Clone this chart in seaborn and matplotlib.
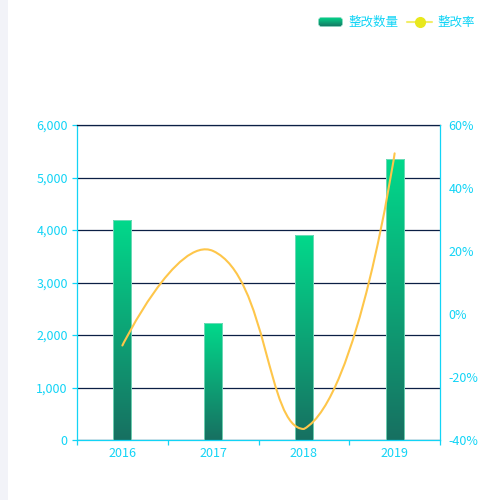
import numpy as np
import pandas as pd
import matplotlib
matplotlib.use("Agg")
import matplotlib.pyplot as plt
import seaborn as sns
from matplotlib.path import Path
from matplotlib.patches import PathPatch, FancyBboxPatch, Rectangle
from matplotlib.lines import Line2D
from matplotlib.ticker import FuncFormatter, FixedLocator

# ---- data ----
years = ["2016", "2017", "2018", "2019"]
counts = [4200, 2220, 3900, 5350]          # 整改数量
rates = [-10, 20, -36.5, 51]               # 整改率 (%)
left_ticks = [0, 1000, 2000, 3000, 4000, 5000, 6000]
right_ticks = [-40, -20, 0, 20, 40, 60]
series_names = ["整改数量", "整改率"]

sns.set_theme(style="white")
plt.rcParams['font.family'] = ['Noto Sans CJK SC', 'DejaVu Sans']

CYAN = "#12d4f6"
NAVY = "#0b1f45"
TOP_GREEN = "#02d98b"
BOT_GREEN = "#177061"
LINE_C = "#fec64a"
FS = 9.0

fig = plt.figure(figsize=(5, 5), dpi=100)
fig.patch.set_facecolor("white")
# left grey strip of the page
fig.add_artist(Rectangle((0, 0), 8 / 500, 1, transform=fig.transFigure,
                         facecolor="#f2f3f8", edgecolor="none", zorder=0))

ax = fig.add_axes([77 / 500, 60 / 500, 363 / 500, 315 / 500])
ax.set_facecolor("none")

df = pd.DataFrame({"year": years, "count": counts})
sns.barplot(data=df, x="year", y="count", ax=ax, width=0.2,
            color=TOP_GREEN, saturation=1, zorder=2)

# vertical gradient inside each bar
grad = np.linspace(0, 1, 256).reshape(-1, 1)
cmap = matplotlib.colors.LinearSegmentedColormap.from_list("g", [BOT_GREEN, TOP_GREEN])
for p in ax.patches:
    x0, y0 = p.get_x(), p.get_y()
    w, h = p.get_width(), p.get_height()
    im = ax.imshow(grad, extent=[x0, x0 + w, y0, y0 + h], origin="lower",
                   cmap=cmap, aspect="auto", zorder=2)
    im.set_clip_path(p)
    p.set_facecolor("none")
    p.set_edgecolor("#7fdcbf")
    p.set_linewidth(0.6)
    p.set_zorder(3)

ax.set_xlim(-0.5, 3.5)
ax.set_ylim(0, 6000)
ax.set_yticks(left_ticks)
ax.yaxis.set_major_formatter(FuncFormatter(lambda v, _: f"{int(v):,}"))
ax.set_xlabel("")
ax.set_ylabel("")
ax.grid(axis="y", color=NAVY, linewidth=0.9)
ax.grid(axis="x", visible=False)
ax.set_axisbelow(True)

for s in ["left", "bottom"]:
    ax.spines[s].set_color(CYAN)
    ax.spines[s].set_linewidth(0.9)
ax.spines["top"].set_color(NAVY)
ax.spines["top"].set_linewidth(0.9)
ax.spines["right"].set_visible(False)

ax.tick_params(axis="y", left=True, length=3.6, width=0.9, color=CYAN,
               labelcolor=CYAN, labelsize=FS, pad=3)
ax.tick_params(axis="x", which="major", bottom=True, length=0,
               labelcolor=CYAN, labelsize=FS, pad=5)
ax.xaxis.set_minor_locator(FixedLocator([-0.5, 0.5, 1.5, 2.5, 3.5]))
ax.tick_params(axis="x", which="minor", bottom=True, length=3.6, width=0.9,
               color=CYAN)

# right axis
ax2 = ax.twinx()
ax2.set_ylim(-40, 60)
ax2.set_yticks(right_ticks)
ax2.yaxis.set_major_formatter(FuncFormatter(lambda v, _: f"{int(v)}%"))
for s in ["left", "top", "bottom"]:
    ax2.spines[s].set_visible(False)
ax2.spines["right"].set_color(CYAN)
ax2.spines["right"].set_linewidth(0.9)
ax2.tick_params(axis="y", right=True, length=0, labelcolor=CYAN,
                labelsize=FS, pad=6)
ax2.grid(False)

# smooth line (echarts-style bezier smoothing computed in pixel space)
xs = np.arange(len(years), dtype=float)
pts = ax2.transData.transform(np.column_stack([xs, rates]))
smooth = 0.5
mn = pts.min(axis=0)
mx = pts.max(axis=0)
cps = []
n = len(pts)
for i in range(n):
    if i == 0 or i == n - 1:
        cps.append(pts[i].copy())
        continue
    prev, nxt, pt = pts[i - 1], pts[i + 1], pts[i]
    v = (nxt - prev) * smooth
    d0 = np.linalg.norm(pt - prev)
    d1 = np.linalg.norm(pt - nxt)
    s = d0 + d1
    d0, d1 = d0 / s, d1 / s
    c0 = np.clip(pt - v * d0, mn, mx)
    c1 = np.clip(pt + v * d1, mn, mx)
    cps.append(c0)
    cps.append(c1)
verts = [pts[0]]
codes = [Path.MOVETO]
for i in range(1, n):
    verts += [cps[2 * (i - 1)], cps[2 * (i - 1) + 1], pts[i]]
    codes += [Path.CURVE4] * 3
verts = ax2.transData.inverted().transform(np.array(verts))
ax2.add_patch(PathPatch(Path(verts, codes), facecolor="none", edgecolor=LINE_C,
                        linewidth=1.5, transform=ax2.transData, zorder=5,
                        capstyle="round"))

# legend (custom, top right)
lax = fig.add_axes([318 / 500, 1 - 27 / 500, 25 / 500, 10 / 500])
lax.set_xlim(0, 1)
lax.set_ylim(0, 1)
lax.axis("off")
icon = FancyBboxPatch((0.02, 0.04), 0.96, 0.92,
                      boxstyle="round,pad=0,rounding_size=0.12",
                      facecolor="none", edgecolor="#8fdcc5", linewidth=0.5,
                      mutation_aspect=2.5)
lax.add_patch(icon)
gim = lax.imshow(grad, extent=[0, 1, 0, 1], origin="lower", cmap=cmap,
                 aspect="auto")
gim.set_clip_path(icon)

fig.text(348 / 500, 1 - 22 / 500, series_names[0], color=CYAN, fontsize=FS,
         va="center", ha="left")
fig.add_artist(Line2D([407 / 500, 432 / 500], [1 - 22 / 500, 1 - 22 / 500],
                      transform=fig.transFigure, color="#f2ee6a", linewidth=1.5))
fig.add_artist(Line2D([419.5 / 500], [1 - 22 / 500], transform=fig.transFigure,
                      marker="o", markersize=7, color="#e8e81c",
                      markeredgecolor="#e8e81c"))
fig.text(437 / 500, 1 - 22 / 500, series_names[1], color=CYAN, fontsize=FS,
         va="center", ha="left")

fig.savefig("out.png", dpi=100, facecolor="white")
